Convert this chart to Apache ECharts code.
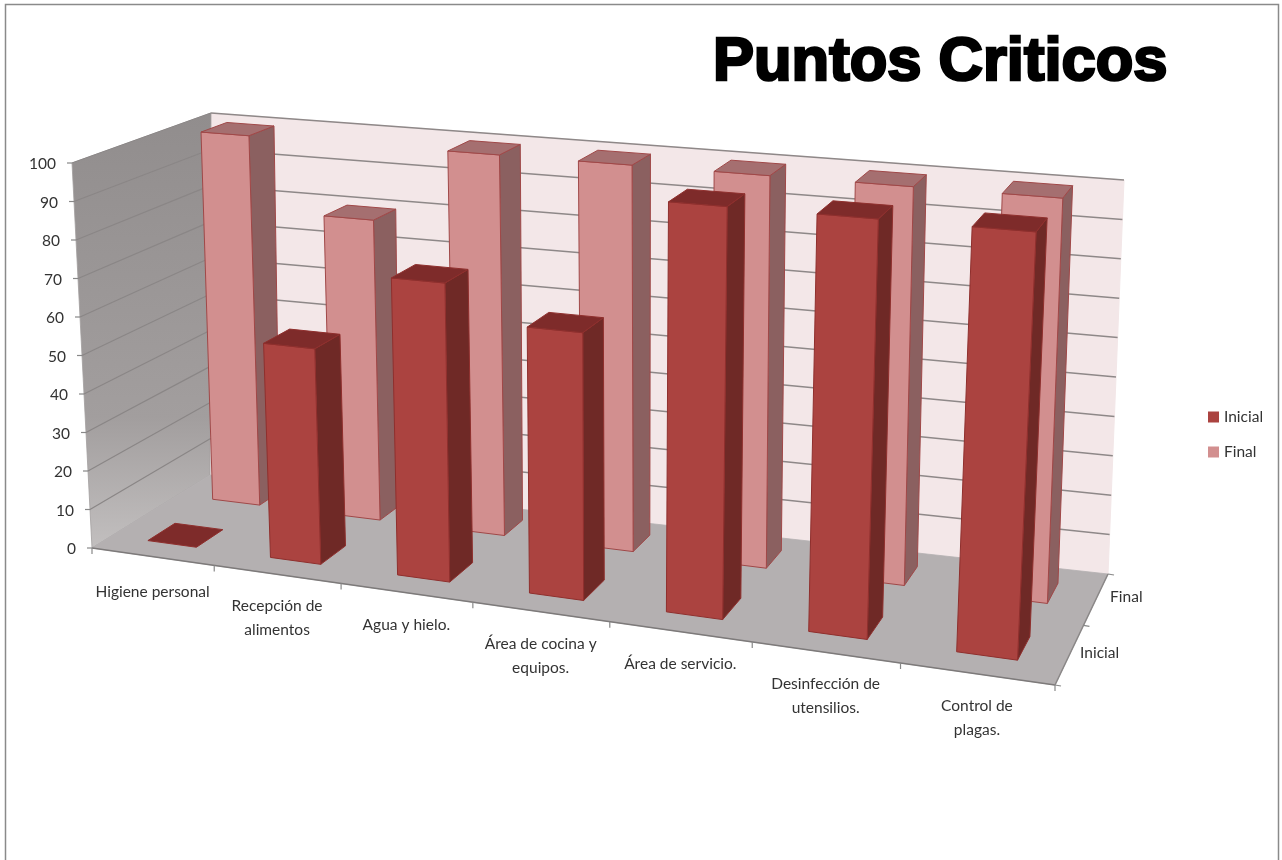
<!DOCTYPE html>
<html><head><meta charset="utf-8">
<style>html,body{margin:0;padding:0;background:#fff}#c{width:1282px;height:860px}</style>
<script src="https://cdn.jsdelivr.net/npm/echarts@6/dist/echarts.min.js"></script>
</head><body><div id="c"></div>
<script>
const categories = ["Higiene personal","Recepción de\nalimentos","Agua y hielo.","Área de cocina y\nequipos.","Área de servicio.","Desinfección de\nutensilios.","Control de\nplagas."];
const depthNames = ["Inicial","Final"];
const inicial = [0,55,75,66,100,100,100];
const final_ = [100,80,100,100,100,100,100];
const yTicks = [0,10,20,30,40,50,60,70,80,90,100];

// chart box corners on screen [x,y]; order: front-left, front-right, back-right, back-left
const FLOOR = [[92,548],[1055,685],[1108,574],[210,475]];
const ROOF  = [[72,163],[1077,247],[1124,180],[211,113]];
const GRID = {left:92, top:163, width:963, height:385};
const WARP_FLOOR = 1.185, WARP_ROOF = 1.01;

function quad(q){
  const [a,b,c,d]=q;
  const dx1=b[0]-c[0],dx2=d[0]-c[0],sx=a[0]-b[0]+c[0]-d[0];
  const dy1=b[1]-c[1],dy2=d[1]-c[1],sy=a[1]-b[1]+c[1]-d[1];
  const D=dx1*dy2-dx2*dy1;
  const g=(sx*dy2-dx2*sy)/D,h=(dx1*sy-sx*dy1)/D;
  const A=b[0]-a[0]+g*b[0],B=d[0]-a[0]+h*d[0],C=a[0];
  const E=b[1]-a[1]+g*b[1],F=d[1]-a[1]+h*d[1],G=a[1];
  return (u,v)=>{const w=g*u+h*v+1;return [(A*u+B*v+C)/w,(E*u+F*v+G)/w];};
}
const fl=quad(FLOOR), rf=quad(ROOF);
const warp=(k,u)=>k*u/(1+(k-1)*u);
function proj(u,v,w){
  const vf=v+(0.01+0.05*(1-u))*6.75*v*v*(1-v);
  const p=fl(warp(WARP_FLOOR,u),vf),q=rf(warp(WARP_ROOF,u),v);
  return [p[0]+(q[0]-p[0])*w,p[1]+(q[1]-p[1])*w];
}
// flat axis pixel -> box fractions -> screen
function place(api,cat,depth,val){
  const c=api.coord([cat,val]);
  return proj((c[0]-GRID.left)/GRID.width,depth/depthNames.length,(GRID.top+GRID.height-c[1])/GRID.height);
}
const poly=(pts,fill,stroke,lw)=>({type:'polygon',shape:{points:pts},style:{fill:fill,stroke:stroke||null,lineWidth:lw||0}});
const line=(a,b,col,lw)=>({type:'line',shape:{x1:a[0],y1:a[1],x2:b[0],y2:b[1]},style:{stroke:col,lineWidth:lw}});
const txt=(x,y,s,align,vAlign)=>({type:'text',style:{x:x,y:y,text:s,fill:'#333',font:'15.5px Lato',align:align,verticalAlign:vAlign,lineHeight:24}});

function renderFrame(params,api){
  const n=categories.length, d=depthNames.length, ch=[];
  const P=(c,z,v)=>place(api,c,z,v);
  ch.push(poly([P(0,d,0),P(n,d,0),P(n,d,100),P(0,d,100)],'#f3e7e8','#f3e7e8',1));
  ch.push(poly([P(0,0,0),P(0,d,0),P(0,d,100),P(0,0,100)],{type:'linear',x:0,y:0,x2:0,y2:1,colorStops:[{offset:0,color:'#918d8d'},{offset:0.7,color:'#a29e9e'},{offset:1,color:'#c2bfbf'}]},'#a29e9e',0.8));
  ch.push(poly([P(0,0,0),P(n,0,0),P(n,d,0),P(0,d,0)],'#b4b0b1','#b4b0b1',0.8));
  yTicks.forEach(t=>{
    if(t>0){
      ch.push(line(P(0,0,t),P(0,d,t),'#8a8686',1.2));
      ch.push(line(P(0,d,t),P(n,d,t),'#8e8888',1.5));
    }
    const a=P(0,0,t);
    ch.push(line([a[0]-5,a[1]],a,'#888',1.2));
    ch.push(txt(a[0]-16,a[1]+1,String(t),'right','middle'));
  });
  ch.push(line(P(0,0,0),P(n,0,0),'#7d7a7a',1.5));
  ch.push(line(P(n,0,0),P(n,d,0),'#8a8787',1.5));
  for(let i=0;i<=n;i++){const a=P(i,0,0);ch.push(line(a,[a[0],a[1]+6],'#888',1.2));}
  for(let z=0;z<=d;z++){const a=P(n,z,0);ch.push(line(a,[a[0]+6,a[1]+1],'#888',1.2));}
  categories.forEach((s,i)=>{const a=P(i+0.5,0,0);ch.push(txt(a[0],a[1]+(i==0?23:20),s,'center','top'));});
  depthNames.forEach((s,z)=>{const a=P(n,z+0.5,0);ch.push(txt(a[0]+30,a[1]-1,s,'center','middle'));});
  return {type:'group',silent:true,children:ch};
}
const BAR=0.4, pad=(1-BAR)/2;
function renderBar(depth,cols){
  return function(params,api){
    const c=api.value(0), v=api.value(1);
    const x0=c+pad,x1=c+pad+BAR,z0=depth+pad,z1=depth+pad+BAR;
    const a=place(api,x0,z0,0),b=place(api,x1,z0,0),e=place(api,x1,z1,0);
    const at=place(api,x0,z0,v),bt=place(api,x1,z0,v),et=place(api,x1,z1,v),dt=place(api,x0,z1,v);
    const kids=[];
    if(v>0){
      kids.push(poly([b,e,et,bt],cols.side,cols.line,1));
      kids.push(poly([a,b,bt,at],cols.front,cols.line,1));
    }
    kids.push(poly([at,bt,et,dt],cols.top,cols.line,1));
    return {type:'group',children:kids};
  };
}
const styleI={front:'#ab4340',side:'#6f2926',top:'#7e2b2a',line:'#8f2f2d'};
const styleF={front:'#d28f8f',side:'#8b6060',top:'#a56f70',line:'#a04848'};
const chart=echarts.init(document.getElementById('c'));
chart.setOption({
  animation:false,
  backgroundColor:'#fff',
  title:{text:'Puntos Criticos',left:708,top:27,textStyle:{fontFamily:'Liberation Sans',fontWeight:'bold',fontSize:61.5,color:'#000',textBorderColor:'#000',textBorderWidth:2.6}},
  legend:{data:depthNames,orient:'vertical',left:1203,top:404,itemWidth:11,itemHeight:11,itemGap:19,icon:'rect',selectedMode:false,textStyle:{fontFamily:'Lato',fontSize:15.5,color:'#333'}},
  graphic:[{type:'rect',shape:{x:5.5,y:4.5,width:1273,height:900},style:{fill:null,stroke:'#8a8a8a',lineWidth:1.5},silent:true,z:-1}],
  grid:GRID,
  xAxis:{type:'value',min:0,max:categories.length,show:false},
  yAxis:{type:'value',min:0,max:100,interval:10,show:false},
  series:[
    {type:'custom',name:'_frame',data:[[0,0]],renderItem:renderFrame,silent:true,z:1,clip:false},
    {type:'custom',name:'Final',data:final_.map((v,i)=>[i,v]),renderItem:renderBar(1,styleF),itemStyle:{color:styleF.front,borderColor:styleF.line},z:2,clip:false},
    {type:'custom',name:'Inicial',data:inicial.map((v,i)=>[i,v]),renderItem:renderBar(0,styleI),itemStyle:{color:styleI.front,borderColor:styleI.line},z:3,clip:false}
  ]
});
</script></body></html>
